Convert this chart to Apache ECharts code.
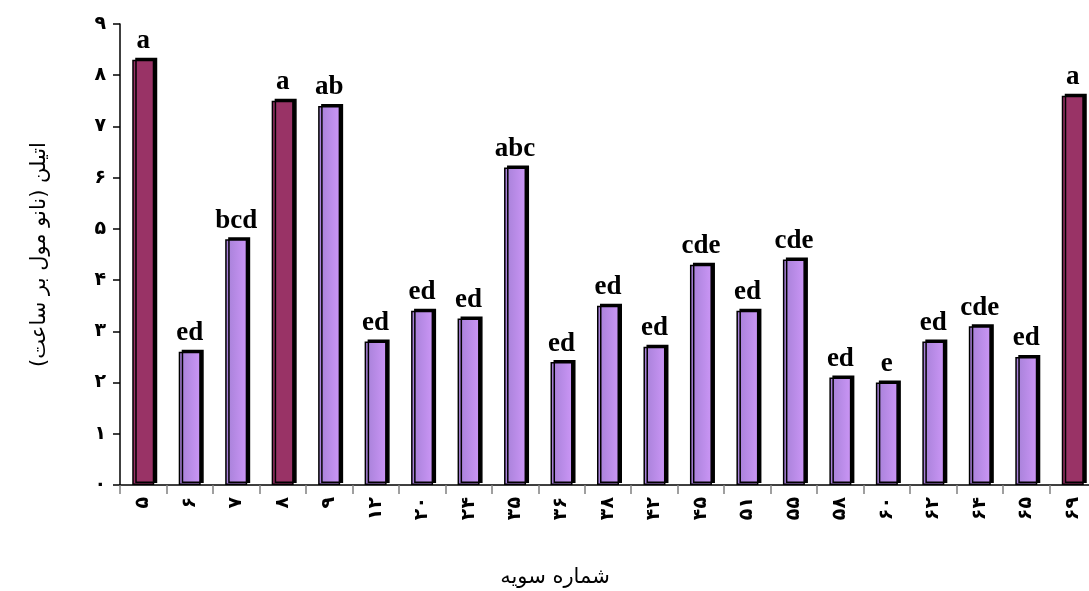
<!DOCTYPE html>
<html><head><meta charset="utf-8">
<script src="https://cdn.jsdelivr.net/npm/echarts@6/dist/echarts.min.js"></script>
<style>html,body{margin:0;padding:0;background:#fff;overflow:hidden}#c{width:1089px;height:591px}</style>
</head><body><div id="c"></div>
<script>
const categories = ['۵','۶','۷','۸','۹','۱۲','۲۰','۲۴','۳۵','۳۶','۳۸','۴۲','۴۵','۵۱','۵۵','۵۸','۶۰','۶۲','۶۴','۶۵','۶۹'];
const values = [8.3,2.6,4.8,7.5,7.4,2.8,3.4,3.25,6.2,2.4,3.5,2.7,4.3,3.4,4.4,2.1,2.0,2.8,3.1,2.5,7.6];
const letters = ['a','ed','bcd','a','ab','ed','ed','ed','abc','ed','ed','ed','cde','ed','cde','ed','e','ed','cde','ed','a'];
const highlighted = [true,false,false,true,false,false,false,false,false,false,false,false,false,false,false,false,false,false,false,false,true];
const yTickLabels = ['۰','۱','۲','۳','۴','۵','۶','۷','۸','۹'];
const yTitle = 'اتیلن (نانو مول بر ساعت)';
const xTitle = 'شماره سویه';

const purple = {type:'linear',x:0,y:0,x2:1,y2:0,colorStops:[{offset:0,color:'#a47fd6'},{offset:1,color:'#cb96f6'}]};
const maroon = '#993366';

const chart = echarts.init(document.getElementById('c'));
chart.setOption({
  animation:false,
  grid:{left:120,top:24,width:976,height:461,containLabel:false,outerBoundsMode:'none'},
  graphic:[{type:'text',x:555,y:578,style:{text:xTitle,x:0,y:0,align:'center',verticalAlign:'middle',
    font:'21px "DejaVu Sans"',fill:'#000'}}],
  xAxis:{
    type:'category',data:categories,
    axisLine:{lineStyle:{color:'#000',width:1.5}},
    axisTick:{show:true,length:9,lineStyle:{color:'#808080',width:1.5}},
    axisLabel:{rotate:90,fontFamily:'DejaVu Sans',fontWeight:'bold',fontSize:19,color:'#000',margin:12}
  },
  yAxis:{
    type:'value',min:0,max:9,interval:1,
    axisLine:{show:true,lineStyle:{color:'#000',width:1.5}},
    axisTick:{show:true,length:7,lineStyle:{color:'#000',width:1.5}},
    splitLine:{show:false},
    axisLabel:{formatter:v=>yTickLabels[v],fontFamily:'DejaVu Sans',fontWeight:'bold',fontSize:19,color:'#000',margin:14},
    name:yTitle,nameLocation:'middle',nameGap:70,nameRotate:90,
    nameTextStyle:{fontFamily:'DejaVu Sans',fontSize:21,color:'#000'}
  },
  series:[{
    type:'bar',barWidth:22,
    data:values.map((v,i)=>({value:v,itemStyle:{color:highlighted[i]?maroon:purple}})),
    itemStyle:{borderColor:'#000',borderWidth:1.5,shadowColor:'#000',shadowBlur:0,shadowOffsetX:3,shadowOffsetY:-2},
    label:{show:true,position:'top',distance:5,formatter:p=>letters[p.dataIndex],
      fontFamily:'Liberation Serif',fontWeight:'bold',fontSize:27,color:'#000'}
  }]
});
</script></body></html>
